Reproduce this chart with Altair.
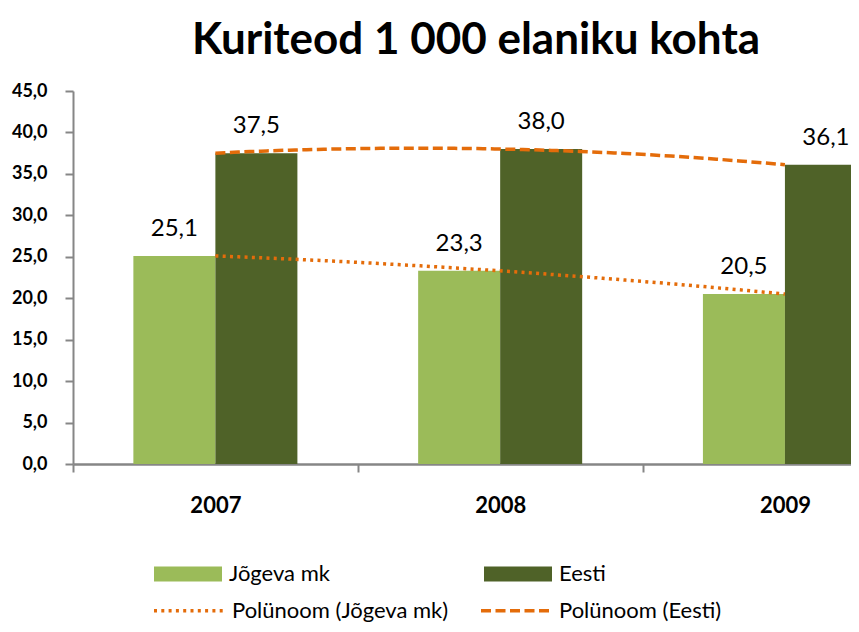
import altair as alt
import pandas as pd

years = [2007, 2008, 2009]
jogeva = [25.1, 23.3, 20.5]
eesti = [37.5, 38.0, 36.1]
series_names = ["Jõgeva mk", "Eesti"]
trend_names = ["Polünoom (Jõgeva mk)", "Polünoom (Eesti)"]
bar_colors = ["#9BBB59", "#4F6228"]
trend_color = "#E46C0A"
y_ticks = [0, 5, 10, 15, 20, 25, 30, 35, 40, 45]
x_axis_values = [2006.5, 2007, 2007.5, 2008, 2008.5, 2009]

rows = []
for yr, a, b in zip(years, jogeva, eesti):
    rows.append({"year": yr, "series": series_names[0], "value": a})
    rows.append({"year": yr, "series": series_names[1], "value": b})
df = pd.DataFrame(rows)

BW = 0.288  # bar width in category units
FONT = "Lato"
GREY = "#868686"

x_scale = alt.Scale(domain=[2006.5, 2009.232], nice=False, zero=False)
y_scale = alt.Scale(domain=[0, 45], nice=False)

x_axis = alt.Axis(
    values=x_axis_values,
    labelExpr="datum.value % 1 === 0 ? '' + datum.value : ''",
    tickOpacity={"condition": {"test": "datum.value % 1 === 0", "value": 0}, "value": 1},
    title=None, grid=False, tickSize=8, tickWidth=2, tickColor=GREY,
    domainColor=GREY, domainWidth=2.5, labelFont=FONT, labelFontSize=22,
    labelFontWeight="bold", labelColor="black", labelPadding=23,
    labelFlush=False, labelOverlap=False,
)
y_axis = alt.Axis(
    values=y_ticks,
    labelExpr="replace(format(datum.value, '.1f'), '.', ',')",
    title=None, grid=False, tickSize=8, tickWidth=2, tickColor=GREY,
    domainColor=GREY, domainWidth=2, labelFont=FONT, labelFontSize=18,
    labelFontWeight="bold", labelColor="black", labelPadding=18,
)

base = alt.Chart(df)
first = series_names[0]

bars = base.transform_calculate(
    x0=f"datum.series === '{first}' ? datum.year - {BW} : datum.year",
    x1=f"datum.series === '{first}' ? datum.year : datum.year + {BW}",
).mark_rect(clip=True).encode(
    x=alt.X("x0:Q", scale=x_scale, axis=x_axis),
    x2="x1:Q",
    y=alt.Y("value:Q", scale=y_scale, axis=y_axis),
    y2=alt.datum(0),
    fill=alt.Fill(
        "series:N",
        scale=alt.Scale(domain=series_names, range=bar_colors),
        legend=alt.Legend(
            orient="none", legendX=81, legendY=449, direction="horizontal",
            title=None, symbolType="M-1,-0.22H1V0.22H-1Z", symbolSize=4624,
            symbolStrokeWidth=0, labelFont=FONT, labelFontSize=22,
            labelColor="black", labelOffset=7, columnPadding=154, padding=0,
            labelLimit=400,
        ),
    ),
)

trend = base.transform_regression(
    "year", "value", method="poly", order=2, groupby=["series"], extent=[2007, 2009]
).transform_calculate(
    trend="'Polünoom (' + datum.series + ')'"
).mark_line(color=trend_color, clip=True, strokeWidth=3.5).encode(
    x=alt.X("year:Q", scale=x_scale),
    y=alt.Y("value:Q", scale=y_scale),
    strokeDash=alt.StrokeDash(
        "trend:N",
        scale=alt.Scale(domain=trend_names, range=[[3, 4.3], [10, 4.5]]),
        legend=alt.Legend(
            orient="none", legendX=79, legendY=482, direction="horizontal",
            title=None, symbolType="stroke", symbolSize=5041,
            symbolStrokeColor=trend_color, symbolStrokeWidth=3.5,
            labelFont=FONT, labelFontSize=22, labelColor="black",
            labelOffset=5, columnPadding=25, padding=0, labelLimit=400,
        ),
    ),
)

labels = base.transform_calculate(
    xl=f"datum.series === '{first}' ? datum.year - {BW / 2} : datum.year + {BW / 2}",
    label="replace(format(datum.value, '.1f'), '.', ',')",
).mark_text(
    font=FONT, fontSize=24, dy=-20, baseline="alphabetic", align="center", color="black"
).encode(
    x=alt.X("xl:Q", scale=x_scale),
    y=alt.Y("value:Q", scale=y_scale),
    text="label:N",
)

chart = alt.layer(bars, trend, labels).properties(
    width=778,
    height=373,
    autosize=alt.AutoSizeParams(type="none"),
    padding={"left": 65, "top": 83, "right": 0, "bottom": 160},
    title=alt.TitleParams(
        "Kuriteod 1 000 elaniku kohta", font=FONT, fontSize=44, fontWeight="bold",
        color="black", anchor="middle", dx=14, dy=43.5, offset=28, baseline="alphabetic",
    ),
    background="white",
).configure_view(stroke=None)

chart.save("out.html", embed_options={"renderer": "svg", "actions": False})
